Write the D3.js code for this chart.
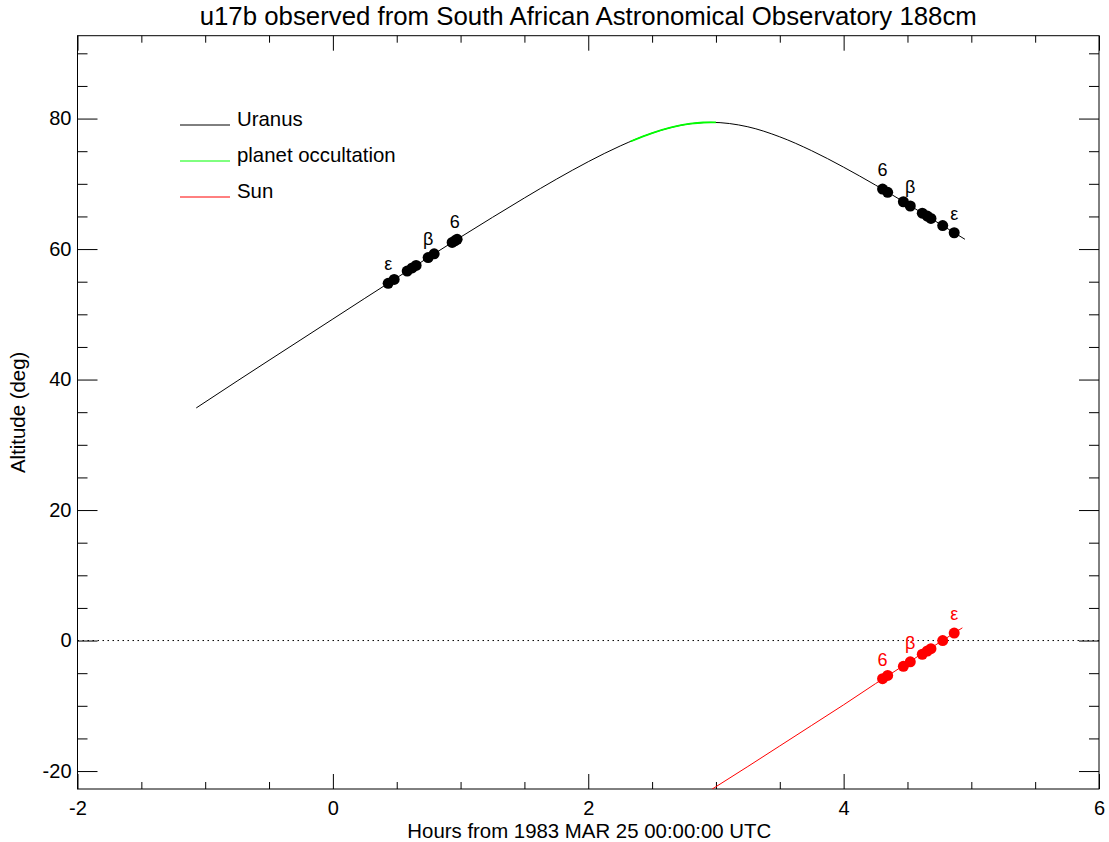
<!DOCTYPE html>
<html>
<head>
<meta charset="utf-8">
<script src="https://cdn.jsdelivr.net/npm/d3@7"></script>
<style>
  html, body { margin: 0; padding: 0; background: #ffffff; }
  svg { display: block; font-family: "Liberation Sans", Arial, Helvetica, sans-serif; }
</style>
</head>
<body>
<svg id="chart" width="1109" height="842"></svg>
<script>
// ---------------- data ----------------
const titleText = "u17b observed from South African Astronomical Observatory 188cm";
const xLabel = "Hours from 1983 MAR 25 00:00:00 UTC";
const yLabel = "Altitude (deg)";

const xTicks = [-2, 0, 2, 4, 6];
const yTicks = [-20, 0, 20, 40, 60, 80];

// Uranus altitude track
const uranusHours = [-1.07, -0.75, -0.5, -0.25, 0, 0.25, 0.5, 0.75, 1.0, 1.25, 1.5, 1.75, 2.0, 2.25, 2.5, 2.75, 2.96, 3.25, 3.5, 3.75, 4.0, 4.25, 4.5, 4.75, 4.95];
const uranusAlt   = [35.65, 39.77, 42.95, 46.11, 49.28, 52.45, 55.59, 58.74, 61.83, 64.86, 67.83, 70.70, 73.39, 75.80, 77.77, 79.06, 79.42, 78.74, 77.20, 75.07, 72.55, 69.80, 66.90, 63.90, 61.50];

// planet occultation segment
const occHours = [2.33, 2.5, 2.65, 2.8, 2.9, 2.96, 3.0];
const occAlt   = [76.48, 77.77, 78.64, 79.21, 79.40, 79.42, 79.41];

// Sun altitude track
const sunHours = [2.75, 3.0, 3.25, 3.5, 3.75, 4.0, 4.25, 4.5, 4.75, 4.93];
const sunAlt   = [-25.5, -22.4, -19.3, -16.15, -13.0, -9.85, -6.6, -3.45, -0.3, 1.95];

// ring events (Uranus)
const eventHours = [0.433, 0.48, 0.582, 0.621, 0.652, 0.746, 0.793, 0.934, 0.955, 0.973,
                    4.305, 4.345, 4.468, 4.522, 4.616, 4.655, 4.684, 4.776, 4.866];
const eventUranusAlt = [54.75, 55.34, 56.62, 57.11, 57.50, 58.69, 59.27, 61.01, 61.27, 61.49,
                        69.20, 68.70, 67.25, 66.60, 65.50, 65.05, 64.70, 63.60, 62.50];

// ring events (Sun altitude, only those within the plotted range)
const sunEventHours = [4.305, 4.345, 4.468, 4.522, 4.616, 4.655, 4.684, 4.776, 4.866];
const sunEventAlt   = [-5.85, -5.35, -3.95, -3.25, -2.10, -1.60, -1.25, 0.0, 1.15];

// ring labels
const ringNames      = ["ε", "β", "6", "6", "β", "ε"];
const ringLabelHours = [0.433, 0.746, 0.955, 4.305, 4.522, 4.866];
const ringLabelUAlt  = [54.75, 58.69, 61.27, 69.20, 66.60, 62.50];
const sunRingNames   = ["6", "β", "ε"];
const sunLabelHours  = [4.305, 4.522, 4.866];
const sunLabelAlt    = [-5.85, -3.25, 1.15];

const legendNames  = ["Uranus", "planet occultation", "Sun"];
const legendColors = ["#000000", "#00ff00", "#ff0000"];

// ---------------- drawing ----------------
const svg = d3.select("#chart");
const pL = 77.5, pR = 1099, pT = 35.7, pB = 789;

const x = d3.scaleLinear().domain([-2, 6]).range([pL, pR]);
const y = d3.scaleLinear().domain([-22.75, 92.7]).range([pB, pT]);

svg.append("defs").append("clipPath").attr("id", "plotclip")
  .append("rect").attr("x", pL).attr("y", pT).attr("width", pR - pL).attr("height", pB - pT);

const fmt = d => String(d);
const xMinor = d3.range(-2, 6.001, 0.5).filter(v => !xTicks.includes(v));
const yMinor = d3.range(-20, 92.7, 5).filter(v => !yTicks.includes(v));

function styleAxis(g) {
  g.select(".domain").remove();
  g.selectAll("line").attr("stroke", "#000").attr("stroke-width", 1);
  g.selectAll("text").attr("fill", "#000").attr("font-size", 20)
    .attr("font-family", "'Liberation Sans', Arial, sans-serif");
}

// bottom
svg.append("g").attr("transform", `translate(0,${pB})`)
  .call(d3.axisBottom(x).tickValues(xTicks).tickFormat(fmt).tickSize(-15).tickSizeOuter(0).tickPadding(12))
  .call(styleAxis);
svg.append("g").attr("transform", `translate(0,${pB})`)
  .call(d3.axisBottom(x).tickValues(xMinor).tickFormat("").tickSize(-7).tickSizeOuter(0))
  .call(styleAxis);
// top
svg.append("g").attr("transform", `translate(0,${pT})`)
  .call(d3.axisTop(x).tickValues(xTicks).tickFormat("").tickSize(-15).tickSizeOuter(0))
  .call(styleAxis);
svg.append("g").attr("transform", `translate(0,${pT})`)
  .call(d3.axisTop(x).tickValues(xMinor).tickFormat("").tickSize(-7).tickSizeOuter(0))
  .call(styleAxis);
// left
svg.append("g").attr("transform", `translate(${pL},0)`)
  .call(d3.axisLeft(y).tickValues(yTicks).tickFormat(fmt).tickSize(-20).tickSizeOuter(0).tickPadding(6))
  .call(styleAxis);
svg.append("g").attr("transform", `translate(${pL},0)`)
  .call(d3.axisLeft(y).tickValues(yMinor).tickFormat("").tickSize(-10).tickSizeOuter(0))
  .call(styleAxis);
// right
svg.append("g").attr("transform", `translate(${pR},0)`)
  .call(d3.axisRight(y).tickValues(yTicks).tickFormat("").tickSize(-20).tickSizeOuter(0))
  .call(styleAxis);
svg.append("g").attr("transform", `translate(${pR},0)`)
  .call(d3.axisRight(y).tickValues(yMinor).tickFormat("").tickSize(-10).tickSizeOuter(0))
  .call(styleAxis);

// frame
svg.append("rect").attr("x", pL).attr("y", pT).attr("width", pR - pL).attr("height", pB - pT)
  .attr("fill", "none").attr("stroke", "#000").attr("stroke-width", 1);

// zero line
svg.append("line").attr("x1", pL).attr("x2", pR).attr("y1", y(0)).attr("y2", y(0))
  .attr("stroke", "#000").attr("stroke-width", 1).attr("stroke-dasharray", "1.5,3.5");

const plot = svg.append("g").attr("clip-path", "url(#plotclip)");

const line = d3.line().x(d => x(d[0])).y(d => y(d[1])).curve(d3.curveMonotoneX);

plot.append("path").datum(uranusHours.map((h, i) => [h, uranusAlt[i]]))
  .attr("d", line).attr("fill", "none").attr("stroke", "#000").attr("stroke-width", 1);
plot.append("path").datum(occHours.map((h, i) => [h, occAlt[i]]))
  .attr("d", line).attr("fill", "none").attr("stroke", "#00ff00").attr("stroke-width", 1.8);
plot.append("path").datum(sunHours.map((h, i) => [h, sunAlt[i]]))
  .attr("d", d3.line().x(d => x(d[0])).y(d => y(d[1]))).attr("fill", "none").attr("stroke", "#ff0000").attr("stroke-width", 1);

plot.selectAll("circle.u").data(eventHours.map((h, i) => [h, eventUranusAlt[i]]))
  .join("circle").attr("class", "u").attr("cx", d => x(d[0])).attr("cy", d => y(d[1])).attr("r", 5.5).attr("fill", "#000");
plot.selectAll("circle.s").data(sunEventHours.map((h, i) => [h, sunEventAlt[i]]))
  .join("circle").attr("class", "s").attr("cx", d => x(d[0])).attr("cy", d => y(d[1])).attr("r", 5.5).attr("fill", "#ff0000");

plot.selectAll("text.ul").data(ringNames.map((n, i) => [n, ringLabelHours[i], ringLabelUAlt[i]]))
  .join("text").attr("class", "ul").attr("x", d => x(d[1])).attr("y", d => y(d[2]) - 13)
  .attr("text-anchor", "middle").attr("font-size", 18).attr("fill", "#000").text(d => d[0]);
plot.selectAll("text.sl").data(sunRingNames.map((n, i) => [n, sunLabelHours[i], sunLabelAlt[i]]))
  .join("text").attr("class", "sl").attr("x", d => x(d[1])).attr("y", d => y(d[2]) - 13)
  .attr("text-anchor", "middle").attr("font-size", 18).attr("fill", "#ff0000").text(d => d[0]);

// legend
const lg = svg.append("g");
legendNames.forEach((name, i) => {
  const ly = 125 + i * 36;
  lg.append("line").attr("x1", 180).attr("x2", 230).attr("y1", ly).attr("y2", ly)
    .attr("stroke", legendColors[i]).attr("stroke-width", 1);
  lg.append("text").attr("x", 237).attr("y", ly + 0.5).attr("font-size", 20.4).attr("fill", "#000").text(name);
});

// titles
svg.append("text").attr("x", (pL + pR) / 2).attr("y", 25).attr("text-anchor", "middle")
  .attr("font-size", 25.8).attr("fill", "#000").text(titleText);
svg.append("text").attr("x", (pL + pR) / 2 + 1).attr("y", 838).attr("text-anchor", "middle")
  .attr("font-size", 20.4).attr("fill", "#000").text(xLabel);
svg.append("text").attr("transform", `translate(25,${(pT + pB) / 2}) rotate(-90)`).attr("text-anchor", "middle")
  .attr("font-size", 20.4).attr("fill", "#000").text(yLabel);
</script>
</body>
</html>
